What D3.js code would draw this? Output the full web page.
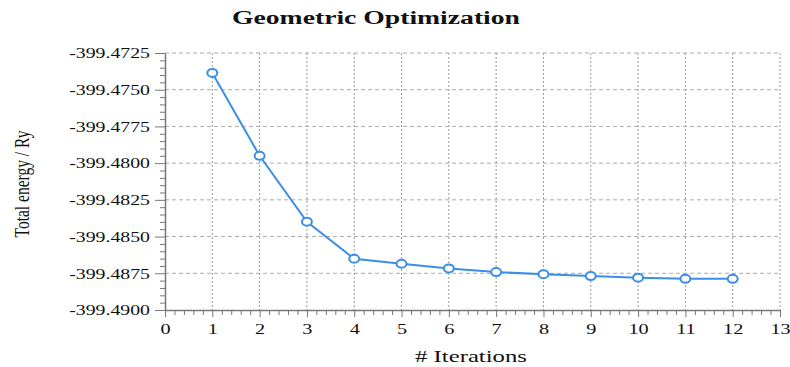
<!DOCTYPE html>
<html>
<head>
<meta charset="utf-8">
<script src="https://cdn.jsdelivr.net/npm/d3@7"></script>
<style>
  body { margin: 0; background: #fff; }
  svg text { font-family: "Liberation Serif", "DejaVu Serif", serif; fill: #111; }
  .axis path, .axis line { stroke: #777; }
</style>
</head>
<body>
<div id="chart"></div>
<script>
// data
const iterations = [1, 2, 3, 4, 5, 6, 7, 8, 9, 10, 11, 12];
const energies = [-399.47386, -399.47950, -399.48399, -399.48651, -399.48685, -399.48717,
                  -399.48742, -399.48756, -399.48769, -399.48780, -399.48788, -399.48788];
const xTicks = [0, 1, 2, 3, 4, 5, 6, 7, 8, 9, 10, 11, 12, 13];
const yTicks = [-399.4900, -399.4875, -399.4850, -399.4825, -399.4800, -399.4775, -399.4750, -399.4725];

const margin = { top: 53, right: 10, bottom: 57, left: 165 };
const width = 790 - margin.left - margin.right;
const height = 367 - margin.top - margin.bottom;

const svg = d3.select('#chart').append('svg')
    .attr('width', 790)
    .attr('height', 367);

const g = svg.append('g')
    .attr('transform', 'translate(' + margin.left + ',' + margin.top + ')');

const x = d3.scaleLinear().domain([0, 13]).range([0, width]);
const y = d3.scaleLinear().domain([-399.49, -399.4725]).range([height, 0]);

// plain hyphen as minus, like the picture
const fmt = d3.formatLocale({ decimal: '.', thousands: ',', grouping: [3], currency: ['', ''], minus: '-' }).format('.4f');

// stretch text horizontally like the picture
function stretch(sel, factor) {
    sel.each(function () {
        const w = this.getComputedTextLength();
        d3.select(this).attr('textLength', w * factor).attr('lengthAdjust', 'spacingAndGlyphs');
    });
}

// grid
g.append('g').selectAll('line')
    .data(xTicks.slice(1))
    .enter().append('line')
    .attr('x1', d => x(d)).attr('x2', d => x(d))
    .attr('y1', 0).attr('y2', height)
    .attr('stroke', '#999').attr('stroke-width', 1)
    .attr('stroke-dasharray', '2,2');
g.append('g').selectAll('line')
    .data(yTicks.slice(1))
    .enter().append('line')
    .attr('x1', 0).attr('x2', width)
    .attr('y1', d => y(d)).attr('y2', d => y(d))
    .attr('stroke', '#aaa').attr('stroke-width', 1)
    .attr('stroke-dasharray', '4,3');

// minor ticks
const xMinor = d3.range(0, 13.001, 0.2).filter(v => Math.abs(v - Math.round(v)) > 0.01);
g.append('g').attr('class', 'axis').attr('transform', 'translate(0,' + height + ')')
    .call(d3.axisBottom(x).tickValues(xMinor).tickSize(5).tickFormat(''))
    .select('.domain').remove();
const yMinor = d3.range(0, 35).map(i => -399.49 + i * 0.0005).filter((v, i) => i % 5 !== 0);
g.append('g').attr('class', 'axis')
    .call(d3.axisLeft(y).tickValues(yMinor).tickSize(5).tickFormat(''))
    .select('.domain').remove();

// major axes
const xAxis = g.append('g').attr('class', 'axis')
    .attr('transform', 'translate(0,' + height + ')')
    .call(d3.axisBottom(x).tickValues(xTicks).tickSize(7).tickSizeOuter(0).tickPadding(6));
xAxis.selectAll('text').style('font-size', '15px');
stretch(xAxis.selectAll('text'), 1.35);

const yAxis = g.append('g').attr('class', 'axis')
    .call(d3.axisLeft(y).tickValues(yTicks).tickSize(10).tickSizeOuter(0).tickPadding(5)
        .tickFormat(fmt));
yAxis.selectAll('text').style('font-size', '15px');
stretch(yAxis.selectAll('text'), 1.32);
g.selectAll('.axis path.domain').attr('stroke-width', 1.5);

// line + markers
const pts = iterations.map((it, i) => ({ it: it, e: energies[i] }));
const line = d3.line().x(d => x(d.it)).y(d => y(d.e));
g.append('path')
    .datum(pts)
    .attr('d', line)
    .attr('fill', 'none')
    .attr('stroke', '#3b8ee6')
    .attr('stroke-width', 2);
g.append('g').selectAll('ellipse')
    .data(pts)
    .enter().append('ellipse')
    .attr('cx', d => x(d.it))
    .attr('cy', d => y(d.e))
    .attr('rx', 5).attr('ry', 4)
    .attr('fill', '#fff')
    .attr('stroke', '#3b8ee6')
    .attr('stroke-width', 2);

// titles
svg.append('text')
    .attr('x', 376).attr('y', 24)
    .attr('text-anchor', 'middle')
    .style('font-size', '18px').style('font-weight', 'bold')
    .attr('textLength', 288).attr('lengthAdjust', 'spacingAndGlyphs')
    .text('Geometric Optimization');

svg.append('text')
    .attr('x', 471).attr('y', 362)
    .attr('text-anchor', 'middle')
    .style('font-size', '17px')
    .attr('textLength', 112).attr('lengthAdjust', 'spacingAndGlyphs')
    .text('# Iterations');

svg.append('text')
    .attr('transform', 'translate(29,184) rotate(-90)')
    .attr('text-anchor', 'middle')
    .style('font-size', '20px')
    .attr('textLength', 107).attr('lengthAdjust', 'spacingAndGlyphs')
    .text('Total energy / Ry');
</script>
</body>
</html>
